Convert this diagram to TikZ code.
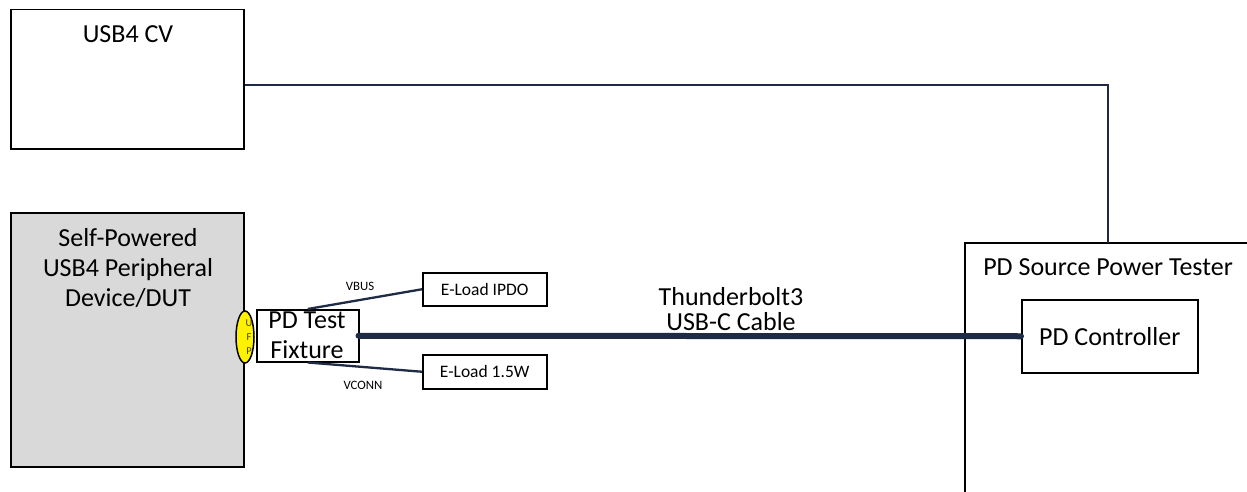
\documentclass[tikz,border=0pt]{standalone}
\usepackage{fontspec}
\setmainfont{Carlito}
\usetikzlibrary{shapes.geometric}
\definecolor{navy}{HTML}{1F2A44}
\definecolor{dutgray}{HTML}{D9D9D9}
\definecolor{ufptext}{HTML}{404020}
\begin{document}
\begin{tikzpicture}[x=1pt,y=-1pt,
  box/.style={draw=black, line width=1.5pt, inner sep=0pt, anchor=north west},
  conn/.style={draw=navy, line width=2.3pt},
  cable/.style={draw=navy, line width=6pt, line cap=round},
  big/.style={font=\fontsize{26}{30}\selectfont, inner sep=0pt, align=center},
  mid/.style={font=\fontsize{17.5}{20}\selectfont, inner sep=0pt},
  tiny/.style={font=\fontsize{12.8}{14}\selectfont, inner sep=0pt}]
\useasboundingbox (0,0) rectangle (1247,492);

% USB4 CV
\node[box, minimum width=233pt, minimum height=139pt] (cv) at (10,9) {};
\node[big] (cvt) at (128,34) {USB4 CV};

% DUT
\node[box, fill=dutgray, minimum width=233pt, minimum height=254pt] (dut) at (10,212) {};
\node[big] (dutt) at (128,268) {Self-Powered\\USB4 Peripheral\\Device/DUT};

% PD Source Power Tester (open box, cut by the frame)
\draw[black, line width=1.5pt] (965,492) -- (965,243) -- (1247,243);
\node[big] (pstt) at (1108,267) {PD Source Power Tester};
\coordinate (tap) at (1108,243);

% PD Controller
\node[box, minimum width=176pt, minimum height=73pt] (pdc) at (1021,299) {};
\node[big] (pdct) at (pdc.center) {PD Controller};

% PD Test Fixture
\node[box, minimum width=102pt, minimum height=52pt] (fix) at (256,309) {};
\node[big] (fixt) at (307,335) {PD Test\\Fixture};

% E-Loads
\node[box, minimum width=124pt, minimum height=33pt] (eipdo) at (422,272) {};
\node[mid] (eipdot) at (eipdo.center) {E-Load IPDO};
\node[box, minimum width=124pt, minimum height=34pt] (e15) at (422,354) {};
\node[mid] (e15t) at (e15.center) {E-Load 1.5W};

% UFP
\node[ellipse, draw=black, line width=1.5pt, fill=yellow, minimum width=18pt, minimum height=52pt, inner sep=0pt] (ufp) at (245,337) {};
\node[inner sep=0pt, align=center, text=ufptext, font=\fontsize{10.5}{14}\selectfont] (ufpt) at (249,337) {U\\F\\P};

% Connectors
\draw[conn] ([yshift=-5.5pt]cv.east) -| (tap);
\draw[conn] (fix.north) -- (eipdo.west);
\draw[conn] (fix.south) -- (e15.west);
\draw[cable] ([xshift=-1pt]fix.east) -- (pdc.west);

% Labels
\node[tiny] (vbus) at (360,286) {VBUS};
\node[tiny] (vconn) at (363,385) {VCONN};
\node[big, font=\fontsize{26}{25}\selectfont] (cablet) at (731,309) {Thunderbolt3\\USB-C Cable};
\end{tikzpicture}
\end{document}
